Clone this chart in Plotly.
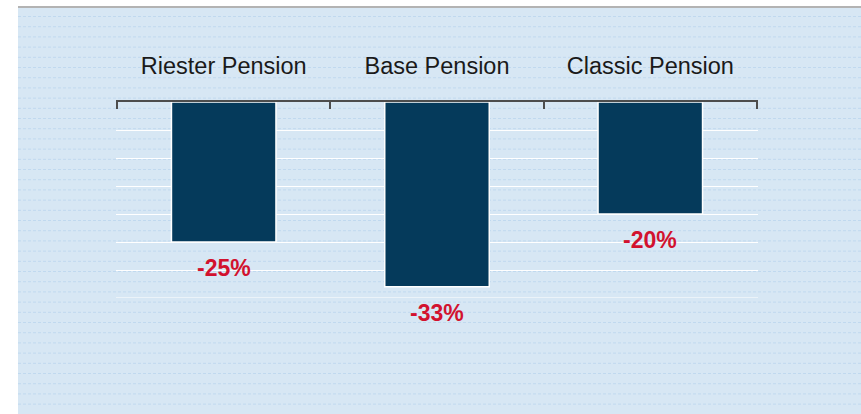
import plotly.graph_objects as go

categories = ["Riester Pension", "Base Pension", "Classic Pension"]
values = [-25, -33, -20]
value_labels = ["-25%", "-33%", "-20%"]

W, H = 861, 414
L, R, T, B = 116, 758, 102, 298  # plot area in pixels


def px_x(px):
    return (px - L) / (R - L)


def px_y(py):
    return (B - py) / (B - T)


fig = go.Figure()
fig.add_trace(go.Bar(
    x=categories, y=values, width=0.49,
    marker=dict(color="#053a5b", line=dict(color="white", width=1.5)),
    hoverinfo="skip",
))

for c, v, t in zip(categories, values, value_labels):
    fig.add_annotation(x=c, y=v, xref="x", yref="y", text=f"<b>{t}</b>",
                       showarrow=False, yanchor="middle", yshift=-26,
                       font=dict(family="Liberation Sans, Arial", size=23, color="#d2122e"))

shapes = [
    dict(type="rect", xref="paper", yref="paper", layer="below",
         x0=px_x(18), x1=px_x(W + 2), y0=px_y(H + 2), y1=px_y(8),
         fillcolor="#d7e7f4", line=dict(width=0)),
    dict(type="line", xref="paper", yref="paper", layer="below",
         x0=px_x(18), x1=px_x(W + 2), y0=px_y(7), y1=px_y(7),
         line=dict(color="#b3b3b3", width=2)),
]
# background texture: faint dashed horizontal lines
py = 16.5
while py < H:
    shapes.append(dict(type="line", xref="paper", yref="paper", layer="below",
                       x0=px_x(18), x1=px_x(W + 2), y0=px_y(py), y1=px_y(py),
                       line=dict(color="#c0d9ef", width=1, dash="3px,2px")))
    py += 10.2
# bottom gridline at the plot edge
shapes.append(dict(type="line", xref="paper", yref="y", layer="below",
                   x0=0, x1=1, y0=-35, y1=-35, line=dict(color="white", width=1)))
fig.update_layout(shapes=shapes)

fig.update_layout(
    width=W, height=H,
    margin=dict(l=L, r=W - R, t=T, b=H - B, pad=0),
    paper_bgcolor="white", plot_bgcolor="rgba(0,0,0,0)",
    showlegend=False,
    xaxis=dict(side="top", type="category", range=[-0.505, 2.505],
               showline=True, linecolor="#4d4d4d", linewidth=2,
               ticks="inside", ticklen=7, tickwidth=1.5, tickcolor="#4d4d4d",
               tickson="boundaries", showgrid=False,
               ticklabelstandoff=17,
               tickfont=dict(family="Liberation Sans, Arial", size=23.5, color="#1a1a1a")),
    yaxis=dict(range=[-35, 0], dtick=5, showticklabels=False, ticks="",
               showgrid=True, gridcolor="white", gridwidth=1,
               zeroline=False, showline=False),
)

fig.write_html("out.html", config={"displayModeBar": False},
               post_script="document.body.style.margin='0';")
